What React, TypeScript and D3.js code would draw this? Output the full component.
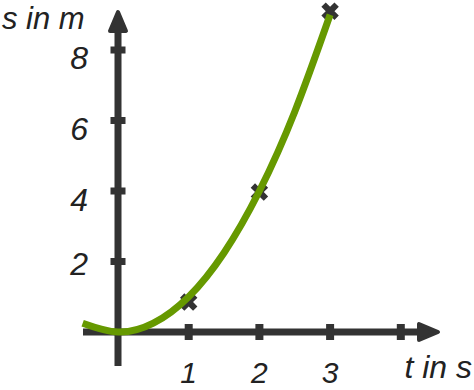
import React from "react";
import * as d3 from "d3";

// Data
const xTicks = [1, 2, 3, 4];
const xTickLabels = ["1", "2", "3", ""];
const yTicks = [2, 4, 6, 8];
const yTickLabels = ["2", "4", "6", "8"];
const measuredT = [1, 2, 3];
const measuredS = [0.85, 3.97, 9.1];
const curveT = [-0.5, 0, 0.5, 1, 1.5, 2, 2.5, 3];
const curveS = [0.25, 0, 0.25, 1, 2.25, 4, 6.25, 9];
const xLabel = "t in s";
const yLabel = "s in m";

const W = 474;
const H = 390;
const AXIS = "#333333";
const GREEN = "#669900";
const FONT = "'Liberation Sans', Arial, sans-serif";

export default function App() {
  const x = d3.scaleLinear().domain([0, 4]).range([118, 400.8]);
  const y = d3.scaleLinear().domain([0, 8]).range([332, 50]);
  const x0 = x(0);
  const y0 = y(0);

  const line = d3
    .line<number>()
    .x((_, i) => x(curveT[i]))
    .y((d) => y(d))
    .curve(d3.curveNatural);

  const cross = d3.symbol().type(d3.symbolCross).size(190)() as string;

  // y label vertical offsets (baseline relative to tick)
  const yDy = [13, 20, 19, 19];

  return (
    <svg
      width={W}
      height={H}
      style={{ position: "absolute", left: 0, top: 0, background: "#fff" }}
    >
      {/* vertical axis */}
      <line x1={x0} x2={x0} y1={366} y2={28} stroke={AXIS} strokeWidth={7} />
      <path
        d={`M${x0},12 L${x0 + 8},31 L${x0 - 8},31 Z`}
        fill={AXIS}
        stroke={AXIS}
        strokeWidth={4}
        strokeLinejoin="round"
      />
      {/* horizontal axis */}
      <line x1={83} x2={424} y1={y0} y2={y0} stroke={AXIS} strokeWidth={7} />
      <path
        d={`M438,${y0} L419,${y0 - 8} L419,${y0 + 8} Z`}
        fill={AXIS}
        stroke={AXIS}
        strokeWidth={4}
        strokeLinejoin="round"
      />
      {/* ticks */}
      {yTicks.map((t) => (
        <rect key={"yt" + t} x={x0 - 7.5} y={y(t) - 3.5} width={15} height={7} fill={AXIS} />
      ))}
      {xTicks.map((t) => (
        <rect key={"xt" + t} x={x(t) - 4} y={y0 - 8} width={8} height={16} fill={AXIS} />
      ))}
      {/* tick labels */}
      {yTicks.map((t, i) => (
        <text
          key={"yl" + t}
          x={88}
          y={y(t) + yDy[i]}
          textAnchor="end"
          fontFamily={FONT}
          fontStyle="italic"
          fontSize={32}
          fill="#222"
        >
          {yTickLabels[i]}
        </text>
      ))}
      {xTicks.map((t, i) =>
        xTickLabels[i] ? (
          <text
            key={"xl" + t}
            x={x(t)}
            y={383}
            textAnchor="middle"
            fontFamily={FONT}
            fontStyle="italic"
            fontSize={30}
            fill="#222"
          >
            {xTickLabels[i]}
          </text>
        ) : null
      )}
      {/* axis titles */}
      <text x={2} y={29} fontFamily={FONT} fontStyle="italic" fontSize={31} fill="#222">
        {yLabel}
      </text>
      <text x={472} y={378} textAnchor="end" fontFamily={FONT} fontStyle="italic" fontSize={32} fill="#222">
        {xLabel}
      </text>
      {/* measured points */}
      {measuredT.map((t, i) => (
        <path
          key={"m" + i}
          d={cross}
          transform={`translate(${x(t)},${y(measuredS[i])}) rotate(45)`}
          fill={AXIS}
        />
      ))}
      {/* fitted curve */}
      <path
        d={line(curveS) as string}
        fill="none"
        stroke={GREEN}
        strokeWidth={7}
        strokeLinecap="butt"
      />
    </svg>
  );
}
